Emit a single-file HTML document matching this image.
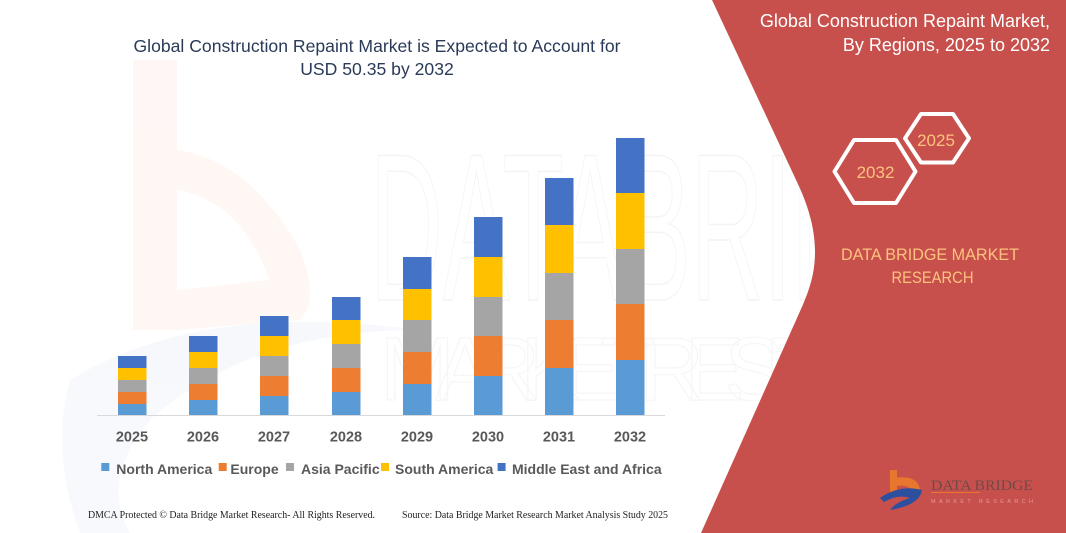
<!DOCTYPE html>
<html><head><meta charset="utf-8"><style>
html,body{margin:0;padding:0;background:#fff;}
svg{display:block;}
</style></head><body>
<svg width="1066" height="533" viewBox="0 0 1066 533" xmlns="http://www.w3.org/2000/svg">
<rect width="1066" height="533" fill="#ffffff"/>
<!-- faint watermark logo -->
<g opacity="0.45">
<path d="M133,60 L177,60 L177,150 Q250,160 300,250 Q320,300 300,320 L177,330 L133,330 Z" fill="#fdeee8"/>
<path d="M177,190 Q240,200 270,280 L177,290 Z" fill="#ffffff"/>
<path d="M70,380 Q200,300 420,330 Q250,330 150,420 Q100,480 130,533 L80,533 Q50,450 70,380 Z" fill="#eef1f8"/>
</g>
<text x="370" y="300" font-family="Liberation Sans, sans-serif" font-size="210" fill="none" stroke="#f4f4f4" stroke-width="1.5" textLength="640" lengthAdjust="spacingAndGlyphs">DATABRIDGE</text>
<text x="380" y="400" font-family="Liberation Sans, sans-serif" font-size="90" fill="none" stroke="#f6f6f6" stroke-width="1.2" textLength="620" lengthAdjust="spacing">MARKET RESEARCH</text>

<!-- red panel -->
<path d="M712,0 L1066,0 L1066,533 L701,533 L797,318 C806,298 815,279 815,252 C815,225 806,201 797,182 Z" fill="#c8504c"/>

<!-- main title -->
<text x="377" y="52" text-anchor="middle" font-family="Liberation Sans, sans-serif" font-size="17.6" fill="#2a3a58">Global Construction Repaint Market is Expected to Account for</text>
<text x="377" y="75" text-anchor="middle" font-family="Liberation Sans, sans-serif" font-size="17.6" fill="#2a3a58">USD 50.35 by 2032</text>

<!-- axis -->
<line x1="97" y1="415.5" x2="665" y2="415.5" stroke="#d9d9d9" stroke-width="1"/>

<!-- bars -->
<g>
<rect x="118" y="404" width="28.5" height="11" fill="#5b9bd5"/>
<rect x="118" y="392" width="28.5" height="12" fill="#ed7d31"/>
<rect x="118" y="380" width="28.5" height="12" fill="#a5a5a5"/>
<rect x="118" y="368" width="28.5" height="12" fill="#ffc000"/>
<rect x="118" y="356" width="28.5" height="12" fill="#4472c4"/>
<rect x="189" y="400" width="28.5" height="15" fill="#5b9bd5"/>
<rect x="189" y="384" width="28.5" height="16" fill="#ed7d31"/>
<rect x="189" y="368" width="28.5" height="16" fill="#a5a5a5"/>
<rect x="189" y="352" width="28.5" height="16" fill="#ffc000"/>
<rect x="189" y="336" width="28.5" height="16" fill="#4472c4"/>
<rect x="260" y="396" width="28.5" height="19" fill="#5b9bd5"/>
<rect x="260" y="376" width="28.5" height="20" fill="#ed7d31"/>
<rect x="260" y="356" width="28.5" height="20" fill="#a5a5a5"/>
<rect x="260" y="336" width="28.5" height="20" fill="#ffc000"/>
<rect x="260" y="316" width="28.5" height="20" fill="#4472c4"/>
<rect x="332" y="392" width="28.5" height="23" fill="#5b9bd5"/>
<rect x="332" y="368" width="28.5" height="24" fill="#ed7d31"/>
<rect x="332" y="344" width="28.5" height="24" fill="#a5a5a5"/>
<rect x="332" y="320" width="28.5" height="24" fill="#ffc000"/>
<rect x="332" y="297" width="28.5" height="23" fill="#4472c4"/>
<rect x="403" y="384" width="28.5" height="31" fill="#5b9bd5"/>
<rect x="403" y="352" width="28.5" height="32" fill="#ed7d31"/>
<rect x="403" y="320" width="28.5" height="32" fill="#a5a5a5"/>
<rect x="403" y="289" width="28.5" height="31" fill="#ffc000"/>
<rect x="403" y="257" width="28.5" height="32" fill="#4472c4"/>
<rect x="474" y="376" width="28.5" height="39" fill="#5b9bd5"/>
<rect x="474" y="336" width="28.5" height="40" fill="#ed7d31"/>
<rect x="474" y="297" width="28.5" height="39" fill="#a5a5a5"/>
<rect x="474" y="257" width="28.5" height="40" fill="#ffc000"/>
<rect x="474" y="217" width="28.5" height="40" fill="#4472c4"/>
<rect x="545" y="368" width="28.5" height="47" fill="#5b9bd5"/>
<rect x="545" y="320" width="28.5" height="48" fill="#ed7d31"/>
<rect x="545" y="273" width="28.5" height="47" fill="#a5a5a5"/>
<rect x="545" y="225" width="28.5" height="48" fill="#ffc000"/>
<rect x="545" y="178" width="28.5" height="47" fill="#4472c4"/>
<rect x="616" y="360" width="28.5" height="55" fill="#5b9bd5"/>
<rect x="616" y="304" width="28.5" height="56" fill="#ed7d31"/>
<rect x="616" y="249" width="28.5" height="55" fill="#a5a5a5"/>
<rect x="616" y="193" width="28.5" height="56" fill="#ffc000"/>
<rect x="616" y="138" width="28.5" height="55" fill="#4472c4"/>
</g>

<!-- year labels -->
<g font-family="Liberation Sans, sans-serif" font-size="14.5" font-weight="bold" fill="#595959" text-anchor="middle">
<text x="132" y="441.5">2025</text>
<text x="203" y="441.5">2026</text>
<text x="274" y="441.5">2027</text>
<text x="346" y="441.5">2028</text>
<text x="417" y="441.5">2029</text>
<text x="488" y="441.5">2030</text>
<text x="559" y="441.5">2031</text>
<text x="630" y="441.5">2032</text>
</g>

<!-- legend -->
<g font-family="Liberation Sans, sans-serif" font-size="14" font-weight="bold" fill="#595959">
<rect x="101.3" y="463" width="8" height="8" fill="#5b9bd5"/>
<text x="116.3" y="474">North America</text>
<rect x="218.7" y="463" width="8" height="8" fill="#ed7d31"/>
<text x="230.4" y="474">Europe</text>
<rect x="286" y="463" width="8" height="8" fill="#a5a5a5"/>
<text x="301" y="474">Asia Pacific</text>
<rect x="381" y="463" width="8" height="8" fill="#ffc000"/>
<text x="395" y="474">South America</text>
<rect x="497.6" y="463" width="8" height="8" fill="#4472c4"/>
<text x="512" y="474">Middle East and Africa</text>
</g>

<!-- footer -->
<g font-family="Liberation Serif, serif" font-size="10" fill="#222222">
<text x="88" y="518" textLength="287" lengthAdjust="spacingAndGlyphs">DMCA Protected © Data Bridge Market Research- All Rights Reserved.</text>
<text x="402" y="518" textLength="266" lengthAdjust="spacingAndGlyphs">Source: Data Bridge Market Research Market Analysis Study 2025</text>
</g>

<!-- right title -->
<g font-family="Liberation Sans, sans-serif" font-size="18" fill="#ffffff" text-anchor="end">
<text x="1050" y="27">Global Construction Repaint Market,</text>
<text x="1050" y="51">By Regions, 2025 to 2032</text>
</g>

<!-- hexagons -->
<polygon points="834.5,171.5 854,140 896,140 915.5,171.5 896,203 854,203" fill="none" stroke="#ffffff" stroke-width="4" stroke-linejoin="round"/>
<polygon points="905,138.3 921,114 953,114 969,138.3 953,162.5 921,162.5" fill="none" stroke="#ffffff" stroke-width="4" stroke-linejoin="round"/>
<g font-family="Liberation Sans, sans-serif" font-size="17" fill="#fcc27e" text-anchor="middle">
<text x="875.5" y="178">2032</text>
<text x="936" y="146">2025</text>
</g>

<g font-family="Liberation Sans, sans-serif" font-size="16.5" fill="#fcc27e" text-anchor="middle">
<text x="930" y="260" textLength="178" lengthAdjust="spacingAndGlyphs">DATA BRIDGE MARKET</text>
<text x="932.5" y="283" textLength="82" lengthAdjust="spacingAndGlyphs">RESEARCH</text>
</g>

<!-- logo bottom right -->
<g>
<rect x="890" y="470" width="7" height="26" fill="#e8762f"/>
<path d="M893,478 Q918,474 920,490 L912,492 Q910,484 895,486 Z" fill="#e8762f"/>
<path d="M880,498 Q900,484 922,490 Q920,505 890,510 Q896,502 910,498 Q898,494 884,502 Z" fill="#2c4f9e"/>
<text x="931" y="490" font-family="Liberation Serif, serif" font-size="15" fill="#6e4a4a" textLength="102" lengthAdjust="spacingAndGlyphs">DATA BRIDGE</text>
<line x1="931" y1="492.5" x2="980" y2="492.5" stroke="#e8762f" stroke-width="1"/>
<text x="931" y="503" font-family="Liberation Sans, sans-serif" font-size="5.5" fill="#e39a98" textLength="102" lengthAdjust="spacing">MARKET RESEARCH</text>
</g>
</svg>
</body></html>
